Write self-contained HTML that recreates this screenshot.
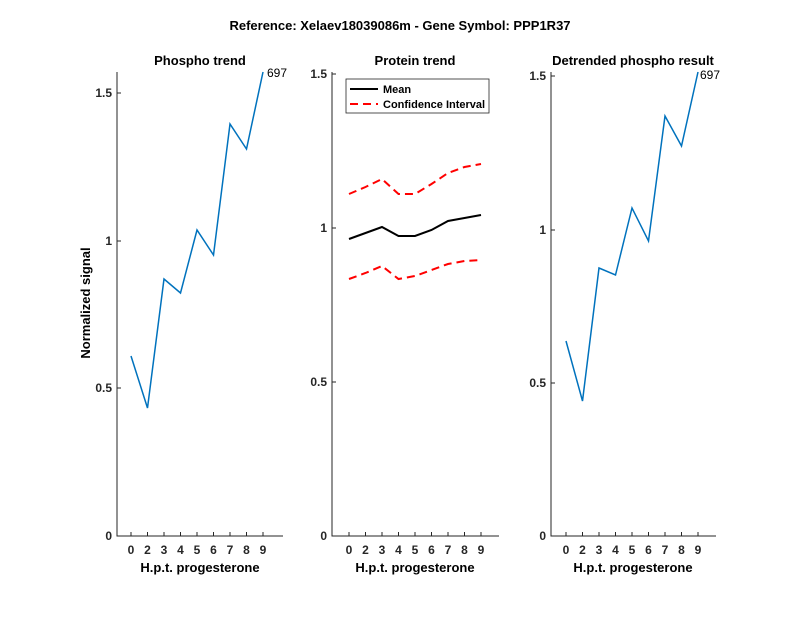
<!DOCTYPE html>
<html><head><style>body{margin:0;background:#fff}</style></head><body>
<svg width="800" height="618" xmlns="http://www.w3.org/2000/svg" font-family="Liberation Sans, Arial, sans-serif" font-size="12" font-weight="bold" fill="#262626">
<rect width="800" height="618" fill="#fff"/>
<text x="400" y="30" text-anchor="middle" font-size="13" fill="#000">Reference:  Xelaev18039086m - Gene Symbol:  PPP1R37</text>
<g stroke="#262626" stroke-width="1" fill="none">
<path d="M117,72V536H283"/><path d="M332,72V536H499"/><path d="M551,72V536H716"/>
</g>
<g stroke="#262626" stroke-width="1">
<path d="M117,536h4M117,388h4M117,241h4M117,93h4"/>
<path d="M332,536h4M332,382h4M332,228h4M332,74h4"/>
<path d="M551,536h4M551,383h4M551,230h4M551,76h4"/>
<path d="M131,536v-4M147.5,536v-4M164,536v-4M180.5,536v-4M197,536v-4M213.5,536v-4M230,536v-4M246.5,536v-4M263,536v-4"/>
<path d="M349,536v-4M365.5,536v-4M382,536v-4M398.5,536v-4M415,536v-4M431.5,536v-4M448,536v-4M464.5,536v-4M481,536v-4"/>
<path d="M566,536v-4M582.5,536v-4M599,536v-4M615.5,536v-4M632,536v-4M648.5,536v-4M665,536v-4M681.5,536v-4M698,536v-4"/>
</g>
<g text-anchor="end">
<text x="112" y="540">0</text><text x="112" y="392">0.5</text><text x="112" y="245">1</text><text x="112" y="97">1.5</text>
<text x="327" y="540">0</text><text x="327" y="386">0.5</text><text x="327" y="232">1</text><text x="327" y="78">1.5</text>
<text x="546" y="540">0</text><text x="546" y="387">0.5</text><text x="546" y="234">1</text><text x="546" y="80">1.5</text>
</g>
<g text-anchor="middle" font-size="12">
<text x="131" y="554">0</text><text x="147.5" y="554">2</text><text x="164" y="554">3</text><text x="180.5" y="554">4</text><text x="197" y="554">5</text><text x="213.5" y="554">6</text><text x="230" y="554">7</text><text x="246.5" y="554">8</text><text x="263" y="554">9</text>
<text x="349" y="554">0</text><text x="365.5" y="554">2</text><text x="382" y="554">3</text><text x="398.5" y="554">4</text><text x="415" y="554">5</text><text x="431.5" y="554">6</text><text x="448" y="554">7</text><text x="464.5" y="554">8</text><text x="481" y="554">9</text>
<text x="566" y="554">0</text><text x="582.5" y="554">2</text><text x="599" y="554">3</text><text x="615.5" y="554">4</text><text x="632" y="554">5</text><text x="648.5" y="554">6</text><text x="665" y="554">7</text><text x="681.5" y="554">8</text><text x="698" y="554">9</text>
</g>
<g text-anchor="middle" font-size="13" fill="#000">
<text x="200" y="572">H.p.t. progesterone</text><text x="415" y="572">H.p.t. progesterone</text><text x="633" y="572">H.p.t. progesterone</text>
<text x="200" y="65">Phospho trend</text><text x="415" y="65">Protein trend</text><text x="633" y="65">Detrended phospho result</text>
<text transform="translate(90,303) rotate(-90)">Normalized signal</text>
</g>
<g fill="none" stroke-width="1.5">
<polyline stroke="#0072BD" points="131,356 147.5,408 164,279 180.5,293 197,230 213.5,255 230,124 246.5,149 263,72"/>
<polyline stroke="#0072BD" points="566,341 582.5,401 599,268 615.5,275 632,208 648.5,241 665,116 681.5,146 698,72"/>
<polyline stroke="#000" stroke-width="2" points="349,239 365.5,233 382,227 398.5,236 415,236 431.5,230 448,221 464.5,218 481,215"/>
<polyline stroke="#f00" stroke-width="2" stroke-dasharray="8,5" points="349,194 365.5,187 382,179 398.5,194 415,194 431.5,184 448,173 464.5,167 481,164"/>
<polyline stroke="#f00" stroke-width="2" stroke-dasharray="8,5" points="349,279 365.5,273 382,266 398.5,279 415,276 431.5,270 448,264 464.5,261 481,260"/>
</g>
<g font-weight="normal" font-size="12" fill="#000"><text x="267" y="77">697</text><text x="700" y="79">697</text></g>
<rect x="346" y="79" width="143" height="34" fill="#fff" stroke="#262626" stroke-width="0.8"/>
<line x1="350" y1="89" x2="378" y2="89" stroke="#000" stroke-width="2"/>
<line x1="350" y1="104" x2="378" y2="104" stroke="#f00" stroke-width="2" stroke-dasharray="8,5"/>
<text x="383" y="93" fill="#000" font-size="11">Mean</text><text x="383" y="108" fill="#000" font-size="11">Confidence Interval</text>
</svg>
</body></html>
